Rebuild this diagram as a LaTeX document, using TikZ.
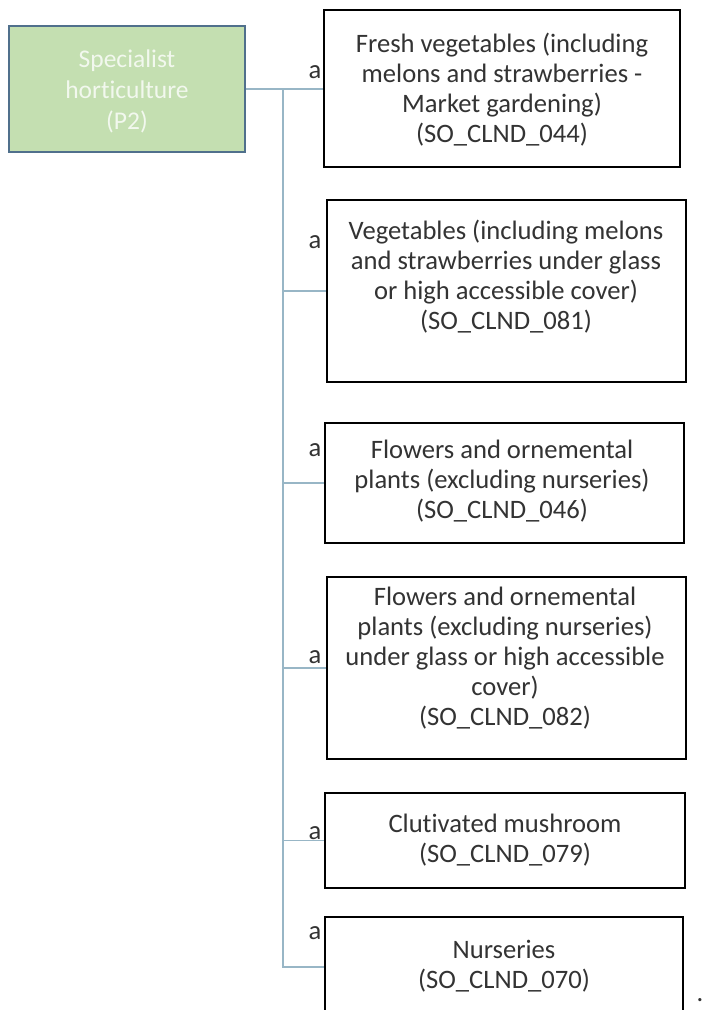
\documentclass[tikz,border=0pt]{standalone}
\usepackage{fontspec}
\setmainfont{Carlito}[Ligatures=CommonOff]
\definecolor{txtc}{HTML}{333333}
\definecolor{greenfill}{HTML}{C4DFB1}
\definecolor{greenborder}{HTML}{50708C}
\definecolor{greentext}{HTML}{F2F8EE}
\definecolor{connc}{HTML}{98B6C6}
\begin{document}
\begin{tikzpicture}[x=1pt,y=-1pt,
  box/.style={draw=black, line width=2.8pt, fill=white, inner sep=0pt},
  greenbox/.style={draw=greenborder, line width=2.2pt, fill=greenfill, inner sep=0pt},
  txt/.style={align=center, text=txtc, font=\fontsize{26.6}{30}\selectfont, inner sep=0pt},
  gtxt/.style={align=center, text=greentext, font=\fontsize{25.5}{31}\selectfont, inner sep=0pt},
  lab/.style={text=txtc, font=\fontsize{26.6}{30}\selectfont, inner sep=0pt},
  conn/.style={draw=connc, line width=1.5pt}]
\clip (0,0) rectangle (704,1010);
\fill[white] (0,0) rectangle (704,1010);

% green source box
\node[greenbox, minimum width=236pt, minimum height=126pt] (g) at (127,89) {};
\node[gtxt] (gt) at (127,91) {Specialist\\horticulture\\(P2)};

% target boxes
\node[box, minimum width=356pt, minimum height=157pt] (b1) at (502,88.5) {};
\node[box, minimum width=359pt, minimum height=182pt] (b2) at (506.5,291) {};
\node[box, minimum width=359pt, minimum height=120pt] (b3) at (504.5,483) {};
\node[box, minimum width=359pt, minimum height=182pt] (b4) at (506.5,668) {};
\node[box, minimum width=360pt, minimum height=95pt] (b5) at (505,840.5) {};
\node[box, minimum width=358pt, minimum height=100pt] (b6) at (504,967) {};

% connectors
\coordinate (j) at (283,89);
\draw[conn] (g.east) -- (g.east -| b1.west);
\draw[conn] (j) |- (b2.west);
\draw[conn] (j) |- (b3.west);
\draw[conn] (j) |- (b4.west);
\draw[conn] (j) |- (b5.west);
\draw[conn] (j) |- (b6.west);

% texts
\node[txt] (t1) at (502,89.5) {Fresh vegetables (including\\melons and strawberries -\\Market gardening)\\(SO\_CLND\_044)};
\node[txt] (t2) at (506,276.5) {Vegetables (including melons\\and strawberries under glass\\or high accessible cover)\\(SO\_CLND\_081)};
\node[txt] (t3) at (502,481) {Flowers and ornemental\\plants (excluding nurseries)\\(SO\_CLND\_046)};
\node[txt] (t4) at (505,658) {Flowers and ornemental\\plants (excluding nurseries)\\under glass or high accessible\\cover)\\(SO\_CLND\_082)};
\node[txt] (t5) at (505,840) {Clutivated mushroom\\(SO\_CLND\_079)};
\node[txt] (t6) at (504,966) {Nurseries\\(SO\_CLND\_070)};

% "a" labels
\node[lab] (a1) at (315,72) {a};
\node[lab] (a2) at (315,242) {a};
\node[lab] (a3) at (315,450) {a};
\node[lab] (a4) at (315,657) {a};
\node[lab] (a5) at (315,833) {a};
\node[lab] (a6) at (315,933) {a};

\node[lab] (dot) at (700,1000) {.};
\end{tikzpicture}
\end{document}
